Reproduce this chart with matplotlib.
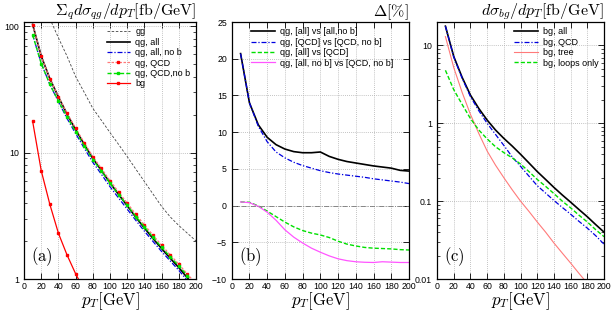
import matplotlib
matplotlib.use('Agg')
import matplotlib.pyplot as plt
from matplotlib.ticker import FixedLocator, FuncFormatter, LogLocator, NullFormatter

plt.rcParams['font.family'] = ['Liberation Sans', 'DejaVu Sans']
plt.rcParams['mathtext.fontset'] = 'cm'

# transverse momentum grid [GeV]
pt = [10, 20, 30, 40, 50, 60, 70, 80, 90, 100, 110, 120, 130, 140, 150, 160, 170, 180, 190, 200]
pt_gg = pt[2:]

# panel (a): sum_q dsigma_qg/dpT [fb/GeV]
gg = [115, 81, 58, 40, 30, 22.4, 18, 14.4, 11.6, 9.3, 7.4, 5.9, 4.7, 3.75, 3.1, 2.65, 2.3, 2.0]
qg_all = [103.5, 58.0, 38.5, 27.6, 20.2, 15.25, 11.65, 8.98, 7.22, 5.76, 4.66, 3.80, 3.08, 2.53, 2.09, 1.74, 1.46, 1.23, 1.02, 0.86]
qg_all_nob = [85.7, 50.9, 34.7, 25.3, 18.65, 14.16, 10.85, 8.38, 6.74, 5.37, 4.37, 3.57, 2.91, 2.39, 1.98, 1.65, 1.39, 1.17, 0.97, 0.82]
qg_qcd = [103, 57.8, 38.5, 27.8, 20.5, 15.6, 12.0, 9.3, 7.5, 6.0, 4.87, 3.99, 3.25, 2.68, 2.22, 1.85, 1.55, 1.31, 1.09, 0.92]
qg_qcd_nob = [85.3, 50.7, 34.7, 25.6, 19.1, 14.65, 11.33, 8.82, 7.14, 5.73, 4.66, 3.83, 3.12, 2.58, 2.14, 1.78, 1.50, 1.27, 1.06, 0.89]

# panel (b): Delta [%]
d_all_nob = [20.7, 14.0, 11.0, 9.3, 8.3, 7.7, 7.35, 7.2, 7.2, 7.3, 6.7, 6.3, 6.0, 5.8, 5.6, 5.4, 5.25, 5.1, 4.8, 4.7]
d_qcd_nob = [20.7, 14.0, 10.8, 8.7, 7.3, 6.5, 5.9, 5.45, 5.1, 4.75, 4.5, 4.3, 4.15, 4.0, 3.85, 3.65, 3.5, 3.35, 3.2, 3.0]
d_all_qcd = [0.5, 0.45, -0.05, -0.75, -1.5, -2.25, -2.9, -3.4, -3.75, -4.0, -4.35, -4.85, -5.25, -5.5, -5.7, -5.8, -5.85, -5.9, -6.0, -6.05]
d_nob_qcdnob = [0.5, 0.4, -0.1, -0.9, -2.0, -3.3, -4.3, -5.1, -5.8, -6.35, -6.85, -7.25, -7.5, -7.65, -7.72, -7.75, -7.65, -7.7, -7.75, -7.75]

# panel (c): dsigma_bg/dpT [fb/GeV]
bg_all = [17.7, 7.2, 3.9, 2.3, 1.55, 1.1, 0.82, 0.64, 0.51, 0.40, 0.31, 0.24, 0.19, 0.15, 0.12, 0.097, 0.078, 0.063, 0.05, 0.040]
bg_qcd = [17.7, 7.1, 3.8, 2.2, 1.45, 1.0, 0.72, 0.52, 0.37, 0.28, 0.21, 0.158, 0.127, 0.102, 0.083, 0.068, 0.055, 0.045, 0.036, 0.028]
bg_tree = [13, 5.2, 2.5, 1.3, 0.74, 0.44, 0.29, 0.20, 0.14, 0.10, 0.074, 0.054, 0.040, 0.029, 0.0215, 0.016, 0.0118, 0.0088, 0.0066, 0.005]
bg_loops = [4.8, 2.7, 1.75, 1.15, 0.82, 0.63, 0.50, 0.42, 0.36, 0.30, 0.24, 0.19, 0.155, 0.125, 0.10, 0.082, 0.066, 0.054, 0.043, 0.035]

BLUE = '#0000e0'
GREEN = '#00e000'
RED = '#ff0000'
PINK = '#ff7a7a'
MAGENTA = '#ff55ff'
DASHDOT = (0, (4, 1.5, 1, 1.5))

fig = plt.figure(figsize=(6.13, 3.13), dpi=100)
ax_a = fig.add_axes([0.0392, 0.1086, 0.2806, 0.821])
ax_b = fig.add_axes([0.378, 0.1086, 0.2892, 0.821])
ax_c = fig.add_axes([0.713, 0.1086, 0.2724, 0.821])


def style_axis(ax):
    ax.set_xlim(0, 200)
    ax.xaxis.set_major_locator(FixedLocator(range(0, 201, 20)))
    ax.tick_params(which='both', direction='in', top=True, right=True, labelsize=6.3)
    ax.tick_params(axis='x', pad=2.5)
    ax.tick_params(which='major', length=4, width=0.6)
    ax.tick_params(which='minor', length=2, width=0.5)
    ax.grid(True, which='major', color='#b0b0b0', linestyle=(0, (1, 1.5)), linewidth=0.6)
    for s in ax.spines.values():
        s.set_linewidth(0.9)
    ax.set_xlabel(r'$p_T\mathrm{[GeV]}$', fontsize=12, labelpad=-1)


def log_axis(ax):
    ax.set_yscale('log')
    ax.yaxis.set_major_locator(LogLocator(base=10))
    ax.yaxis.set_minor_locator(LogLocator(base=10, subs=range(2, 10)))
    ax.yaxis.set_major_formatter(FuncFormatter(lambda v, _: '%g' % v))
    ax.yaxis.set_minor_formatter(NullFormatter())


def panel_label(ax, s):
    ax.text(0.04, 0.07, r'$\mathrm{(%s)}$' % s, transform=ax.transAxes, fontsize=12)


legend_kw = dict(frameon=False, fontsize=6.5, handlelength=2.6, labelspacing=0.15,
                 borderaxespad=0.2, handletextpad=0.6)

# (a)
ax = ax_a
ax.plot(pt_gg, gg, color='#444444', lw=0.6, ls=(0, (3, 2)), label='gg')
ax.plot(pt, qg_all, color='black', lw=1.2, label='qg, all')
ax.plot(pt, qg_all_nob, color=BLUE, lw=0.9, ls=DASHDOT, label='qg, all, no b')
ax.plot(pt, qg_qcd, color=PINK, lw=0.9, ls=(0, (2, 1.2)), marker='s', ms=1.6, mfc=RED, mec=RED, label='qg, QCD')
ax.plot(pt, qg_qcd_nob, color=GREEN, lw=1.0, ls=(0, (3, 1.5)), marker='s', ms=1.6, label='qg, QCD,no b')
ax.plot(pt, bg_all, color=RED, lw=0.9, marker='s', ms=1.6, label='bg')
log_axis(ax)
ax.set_ylim(1, 108)
style_axis(ax)
ax.set_title(r'$\Sigma_q d\sigma_{qg}/dp_T\mathrm{[fb/GeV]}$', loc='right', fontsize=11.5, pad=3)
panel_label(ax, 'a')
ax.legend(loc='upper right', **legend_kw)

# (b)
ax = ax_b
ax.plot(pt, d_all_nob, color='black', lw=1.2, label='qg, [all] vs [all,no b]')
ax.plot(pt, d_qcd_nob, color=BLUE, lw=0.9, ls=DASHDOT, label='qg, [QCD] vs [QCD, no b]')
ax.plot(pt, d_all_qcd, color=GREEN, lw=1.0, ls=(0, (3, 1.5)), label='qg, [all] vs [QCD]')
ax.plot(pt, d_nob_qcdnob, color=MAGENTA, lw=0.9, label='qg, [all, no b] vs [QCD, no b]')
ax.axhline(0, color='#777777', lw=0.6, ls=(0, (6, 2, 1, 2)))
ax.set_ylim(-10, 25)
ax.yaxis.set_major_locator(FixedLocator(range(-10, 26, 5)))
style_axis(ax)
ax.set_title(r'$\Delta[\%]$', loc='right', fontsize=11.5, pad=3)
panel_label(ax, 'b')
ax.legend(loc='upper left', bbox_to_anchor=(0.08, 1.0), **legend_kw)

# (c)
ax = ax_c
ax.plot(pt, bg_all, color='black', lw=1.2, label='bg, all')
ax.plot(pt, bg_qcd, color=BLUE, lw=0.9, ls=DASHDOT, label='bg, QCD')
ax.plot(pt, bg_tree, color=PINK, lw=0.8, label='bg, tree')
ax.plot(pt, bg_loops, color=GREEN, lw=1.0, ls=(0, (3, 1.5)), label='bg, loops only')
log_axis(ax)
ax.set_ylim(0.01, 20)
style_axis(ax)
ax.set_title(r'$d\sigma_{bg}/dp_T\mathrm{[fb/GeV]}$', loc='right', fontsize=11.5, pad=3)
panel_label(ax, 'c')
ax.legend(loc='upper right', **legend_kw)

fig.savefig('out.png', dpi=100)
